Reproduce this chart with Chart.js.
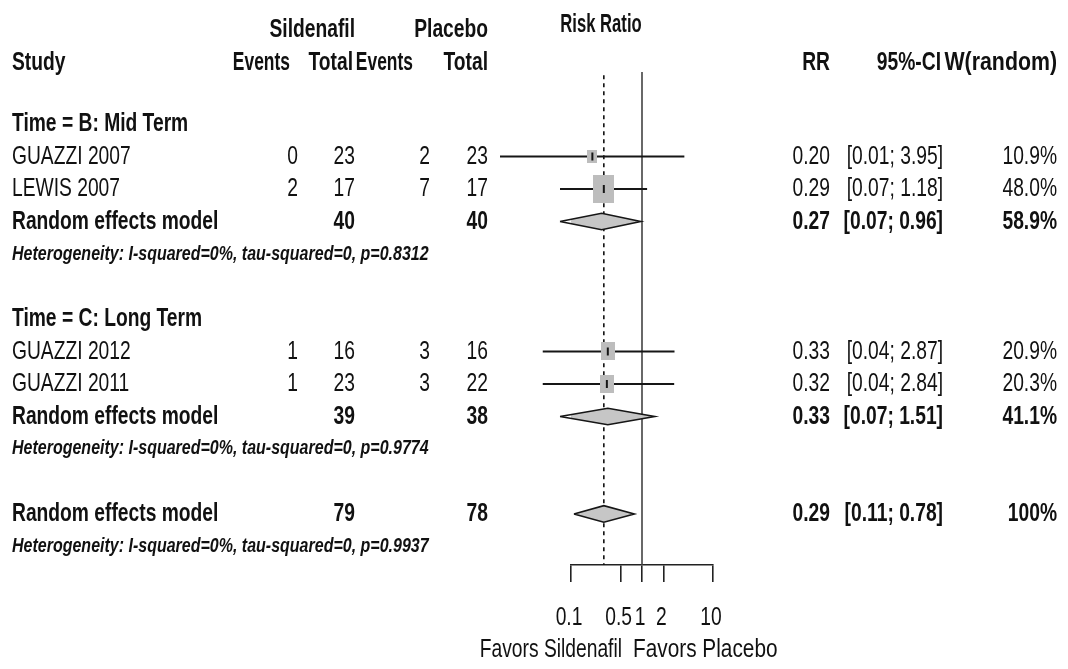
<!DOCTYPE html>
<html>
<head>
<meta charset="utf-8">
<script src="https://cdn.jsdelivr.net/npm/chart.js@4.4.1/dist/chart.umd.min.js"></script>
<style>
html, body { margin: 0; padding: 0; background: #fff; }
#wrap { width: 1068px; height: 669px; }
</style>
</head>
<body>
<div id="wrap"><canvas id="mycanvas"></canvas></div>
<script>
// studies
var studies = ['GUAZZI 2007', 'LEWIS 2007', 'GUAZZI 2012', 'GUAZZI 2011'];
var studyGroup = [0, 0, 1, 1];
var silEvents = [0, 2, 1, 1];
var silTotal = [23, 17, 16, 23];
var plaEvents = [2, 7, 3, 3];
var plaTotal = [23, 17, 16, 22];
var rr = [0.20, 0.29, 0.33, 0.32];
var rrLower = [0.01, 0.07, 0.04, 0.04];
var rrUpper = [3.95, 1.18, 2.87, 2.84];
var weight = [10.9, 48.0, 20.9, 20.3];

// subgroups (random effects)
var groups = ['Time = B: Mid Term', 'Time = C: Long Term'];
var groupSil = [40, 39];
var groupPla = [40, 38];
var groupRR = [0.27, 0.33];
var groupLower = [0.07, 0.07];
var groupUpper = [0.96, 1.51];
var groupWeight = [58.9, 41.1];
var groupP = ['0.8312', '0.9774'];

// overall
var totalSil = [79];
var totalPla = [78];
var totalRR = [0.29];
var totalLower = [0.11];
var totalUpper = [0.78];
var totalWeight = [100];
var totalP = ['0.9937'];

var xTicks = [0.1, 0.5, 1, 2, 10];

// row layout
var rows = [];
var r = 2;
groups.forEach(function(g, gi) {
    rows.push({kind: 'group', i: gi, row: r++});
    studies.forEach(function(s, si) {
        if (studyGroup[si] === gi) rows.push({kind: 'study', i: si, row: r++});
    });
    rows.push({kind: 're', i: gi, row: r++});
    rows.push({kind: 'het', i: gi, row: r++});
    r++;
});
rows.push({kind: 'total', i: 0, row: r++});
rows.push({kind: 'hetTotal', i: 0, row: r++});

function rowOf(kind, i) {
    for (var k = 0; k < rows.length; k++) if (rows[k].kind === kind && rows[k].i === i) return rows[k].row;
}

var yTop = 0.4, yBottom = 15.57;
var DH = 0.255; // diamond half height (rows)

function makeSquare(w) {
    var side = 3.1 * Math.sqrt(w);
    var c = document.createElement('canvas');
    c.width = Math.max(2, Math.round(side));
    c.height = Math.max(2, Math.round(side * 1.3));
    var g = c.getContext('2d');
    g.fillStyle = '#bdbdbd';
    g.fillRect(0, 0, c.width, c.height);
    return c;
}
var squareImgs = weight.map(makeSquare);

var datasets = [];
// reference line at 1
datasets.push({
    data: [{x: 1, y: yTop}, {x: 1, y: yBottom}],
    showLine: true, borderColor: '#444', borderWidth: 1.6, pointRadius: 0, order: 30, clip: false
});
// dotted line at overall estimate
datasets.push({
    data: [{x: totalRR[0], y: 0.5}, {x: totalRR[0], y: yBottom}],
    showLine: true, borderColor: '#111', borderWidth: 1.6, borderDash: [4, 4], pointRadius: 0, order: 29, clip: false
});
// confidence intervals
studies.forEach(function(s, si) {
    var yr = rowOf('study', si);
    datasets.push({
        data: [{x: rrLower[si], y: yr}, {x: rrUpper[si], y: yr}],
        showLine: true, borderColor: '#161616', borderWidth: 2, pointRadius: 0, order: 10, clip: false
    });
});
// weighted squares
datasets.push({
    data: studies.map(function(s, si) { return {x: rr[si], y: rowOf('study', si)}; }),
    pointStyle: function(c) { return squareImgs[c.dataIndex]; },
    pointRadius: 10, order: 5, clip: false
});
// estimate marks
datasets.push({
    data: studies.map(function(s, si) { return {x: rr[si], y: rowOf('study', si)}; }),
    pointStyle: 'line', pointRotation: 90, pointRadius: 4, pointBorderWidth: 2,
    pointBorderColor: '#161616', order: 4, clip: false
});
// diamonds
function diamond(est, lo, hi, yr) {
    return {
        data: [{x: lo, y: yr}, {x: est, y: yr - DH}, {x: hi, y: yr}, {x: est, y: yr + DH}, {x: lo, y: yr}],
        showLine: true, fill: 'shape', backgroundColor: '#c6c6c6', borderColor: '#161616',
        borderWidth: 1.6, pointRadius: 0, order: 1, clip: false
    };
}
groups.forEach(function(g, gi) {
    datasets.push(diamond(groupRR[gi], groupLower[gi], groupUpper[gi], rowOf('re', gi)));
});
datasets.push(diamond(totalRR[0], totalLower[0], totalUpper[0], rowOf('total', 0)));

var SX = 0.74;
var FONT = '"Liberation Sans", Arial, sans-serif';

var tablePlugin = {
    id: 'tableText',
    afterDraw: function(chart) {
        var ctx = chart.ctx, ys = chart.scales.y, xs = chart.scales.x;
        function txt(s, x, y, align, weightStyle, size, sx) {
            ctx.save();
            ctx.font = (weightStyle || '') + ' ' + (size || 26) + 'px ' + FONT;
            ctx.fillStyle = '#111';
            ctx.textBaseline = 'middle';
            ctx.textAlign = align;
            ctx.translate(x, y);
            ctx.scale(sx || SX, 1);
            ctx.fillText(s, 0, 0);
            ctx.restore();
        }
        function Y(row) { return ys.getPixelForValue(row); }
        function ci(lo, hi) { return '[' + lo.toFixed(2) + '; ' + hi.toFixed(2) + ']'; }
        function w(v) { return v === 100 ? '100%' : v.toFixed(1) + '%'; }

        // headers
        txt('Risk Ratio', 601, Y(-1.05), 'center', 'bold', 26, 0.64);
        txt('Sildenafil', 355, Y(-0.9), 'right', 'bold');
        txt('Placebo', 488, Y(-0.9), 'right', 'bold');
        var hy = Y(0.12);
        txt('Study', 12, hy, 'left', 'bold');
        txt('Events', 290, hy, 'right', 'bold', 26, 0.67);
        txt('Total', 353, hy, 'right', 'bold');
        txt('Events', 413, hy, 'right', 'bold', 26, 0.67);
        txt('Total', 488, hy, 'right', 'bold');
        txt('RR', 830, hy, 'right', 'bold');
        txt('95%-CI', 941, hy, 'right', 'bold');
        txt('W(random)', 1057, hy, 'right', 'bold', 26, 0.82);

        rows.forEach(function(o) {
            var y = Y(o.row), i = o.i;
            if (o.kind === 'group') {
                txt(groups[i], 12, y, 'left', 'bold');
            } else if (o.kind === 'study') {
                txt(studies[i], 12, y, 'left');
                txt(String(silEvents[i]), 298, y, 'right');
                txt(String(silTotal[i]), 355, y, 'right');
                txt(String(plaEvents[i]), 430, y, 'right');
                txt(String(plaTotal[i]), 488, y, 'right');
                txt(rr[i].toFixed(2), 830, y, 'right');
                txt(ci(rrLower[i], rrUpper[i]), 943, y, 'right');
                txt(w(weight[i]), 1057, y, 'right');
            } else if (o.kind === 're' || o.kind === 'total') {
                var t = o.kind === 'total';
                txt('Random effects model', 12, y, 'left', 'bold');
                txt(String(t ? totalSil[0] : groupSil[i]), 355, y, 'right', 'bold');
                txt(String(t ? totalPla[0] : groupPla[i]), 488, y, 'right', 'bold');
                txt((t ? totalRR[0] : groupRR[i]).toFixed(2), 830, y, 'right', 'bold');
                txt(t ? ci(totalLower[0], totalUpper[0]) : ci(groupLower[i], groupUpper[i]), 943, y, 'right', 'bold');
                txt(w(t ? totalWeight[0] : groupWeight[i]), 1057, y, 'right', 'bold');
            } else {
                var p = o.kind === 'het' ? groupP[i] : totalP[0];
                txt('Heterogeneity: I-squared=0%, tau-squared=0, p=' + p, 12, y, 'left', 'italic bold', 20, 0.8);
            }
        });

        // axis labels
        var base = chart.chartArea.bottom;
        xs.ticks.forEach(function(t) {
            txt(String(t.value), xs.getPixelForValue(t.value) - 2, base + 53, 'center');
        });
        var one = xs.getPixelForValue(1);
        txt('Favors Sildenafil', one - 20, base + 85, 'right');
        txt('Favors Placebo', one - 9, base + 85, 'left', '', 26, 0.8);
    }
};

var ctx = document.getElementById('mycanvas');
var forest = new Chart(ctx, {
    type: 'scatter',
    data: {datasets: datasets},
    options: {
        responsive: true,
        maintainAspectRatio: false,
        animation: false,
        layout: {padding: {left: 571, right: 355, top: 72, bottom: 104}},
        plugins: {legend: {display: false}, tooltip: {enabled: false}},
        scales: {
            x: {
                type: 'logarithmic', min: 0.1, max: 10,
                afterBuildTicks: function(s) { s.ticks = xTicks.map(function(v) { return {value: v}; }); },
                afterFit: function(s) { s.height = 0; },
                grid: {drawOnChartArea: false, drawTicks: true, tickLength: 17, color: '#222', lineWidth: 1.6},
                border: {display: true, color: '#222', width: 1.6},
                ticks: {display: false}
            },
            y: {type: 'linear', reverse: true, min: yTop, max: yBottom, display: false}
        }
    },
    plugins: [tablePlugin]
});
</script>
</body>
</html>
